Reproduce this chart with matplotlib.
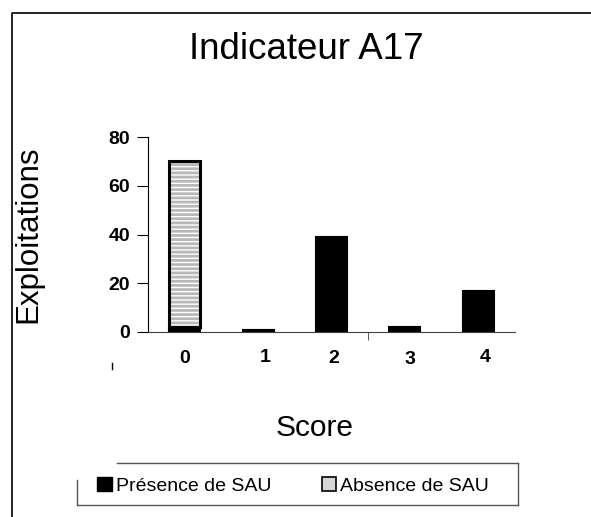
import numpy as np
import matplotlib
matplotlib.use("Agg")
from matplotlib import pyplot as plt
from matplotlib.lines import Line2D
from matplotlib.patches import Patch
from matplotlib.transforms import ScaledTranslation

plt.rcParams['font.family'] = ['Liberation Sans', 'DejaVu Sans']
plt.rcParams['hatch.linewidth'] = 2.0

scores = ["0", "1", "2", "3", "4"]
presence = [2, 1, 39, 2, 17]
absence = [68, 0, 0, 0, 0]

fig = plt.figure(figsize=(5.91, 5.17), dpi=100)
ax = fig.add_axes([148/591, 1-332/517, (515-148)/591, (332-137)/517])

x = np.arange(len(scores))
w = 0.42
ax.bar(x, presence, w, color='black', edgecolor='black', linewidth=1.5)
# striped part: draw hatch in light grey, then black outline on top
ax.bar(x, absence, w, bottom=presence, color='white', edgecolor='#b8b8b8',
       hatch='----', linewidth=0)
ax.bar(x, absence, w, bottom=presence, fill=False, edgecolor='black', linewidth=2.2)

ax.set_xlim(-0.5, 4.5)
ax.set_ylim(0, 80)
ax.set_yticks([0, 20, 40, 60, 80])
ax.set_xticks(x)
ax.set_xticklabels(scores, fontsize=14, fontweight='bold')
ax.set_xticks([2.5], minor=True)
ax.tick_params(axis='x', which='major', length=0, pad=13)
ax.tick_params(axis='x', which='minor', length=6, color='#404040')
ax.tick_params(axis='y', length=8, width=0.8, pad=5)
for lab in ax.get_yticklabels():
    lab.set_fontsize(14)
    lab.set_fontweight('bold')
# the original labels sit a little off-centre
shifts = [(0, 0), (7, 1), (2, 0), (5, -1), (7, 1)]
for lab, (dx, dy) in zip(ax.get_xticklabels(), shifts):
    lab.set_transform(lab.get_transform() + ScaledTranslation(dx/100, dy/100, fig.dpi_scale_trans))
for s in ['top', 'right']:
    ax.spines[s].set_visible(False)
ax.spines['bottom'].set_color('#404040')
ax.spines['left'].set_linewidth(0.8)

fig.text(306/591, 1-50/517, "Indicateur A17", fontsize=26.5, ha='center', va='center')
fig.text(28/591, 1-234/517, "Exploitations", fontsize=22.5, rotation=90, ha='center', va='center')
fig.text(315/591, 1-428/517, "Score", fontsize=21.5, ha='center', va='center')

# little stray mark below the y axis
fig.add_artist(Line2D([112/591, 112/591], [1-363/517, 1-369/517], color='black', lw=1))

# outer frame (cropped)
fig.add_artist(Line2D([12/591, 12/591, 1], [0, 1-13/517, 1-13/517], color='black', lw=1.2))

handles = [Patch(facecolor='black', edgecolor='black'),
           Patch(facecolor='#d6d6d6', edgecolor='black', linewidth=1.2)]
fig.legend(handles, ["Présence de SAU", "Absence de SAU"], ncol=2,
           loc='center', bbox_to_anchor=(293/591, 1-486/517), frameon=False,
           fontsize=14, handlelength=0.75, handleheight=0.75, handletextpad=0.2,
           columnspacing=2.6)
# legend box, partly drawn as in the original
lc = '#555555'
fig.add_artist(Line2D([77/591, 77/591], [1-480/517, 1-505/517], color=lc, lw=1))
fig.add_artist(Line2D([77/591, 518/591], [1-505/517, 1-505/517], color=lc, lw=1))
fig.add_artist(Line2D([518/591, 518/591], [1-463/517, 1-505/517], color=lc, lw=1))
fig.add_artist(Line2D([117/591, 518/591], [1-463/517, 1-463/517], color=lc, lw=1))

fig.savefig("out.png", dpi=100)
